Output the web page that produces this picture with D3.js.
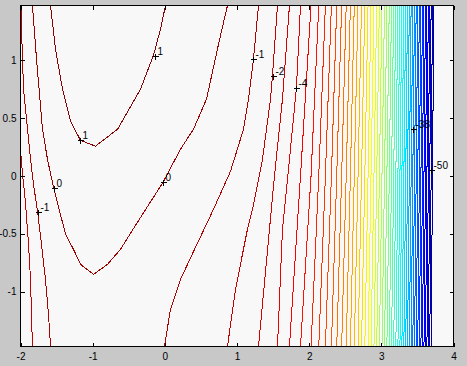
<!DOCTYPE html>
<html>
<head>
<meta charset="utf-8">
<script src="https://cdn.jsdelivr.net/npm/d3@7"></script>
<style>
  html, body { margin: 0; padding: 0; background: #c8c8c8; }
  svg { display: block; }
  text { font-family: "Liberation Sans", Arial, sans-serif; font-size: 10px; fill: #000; }
</style>
</head>
<body>
<div id="chart"></div>
<script>
// Axis ticks
const xTicks = [-2, -1, 0, 1, 2, 3, 4];
const yTicks = [-1, -0.5, 0, 0.5, 1];

// Contour lines with curved shapes: [x, y] in data units
const contour1 = [[-1.584, 1.475], [-1.515, 1.097], [-1.418, 0.751], [-1.307, 0.474], [-1.169, 0.309], [-0.961, 0.258],
  [-0.656, 0.404], [-0.337, 0.751], [-0.157, 1.045], [-0.060, 1.270], [0.009, 1.475]];
const contour0 = [[-1.834, 1.475], [-1.778, 1.010], [-1.695, 0.404], [-1.626, 0.144], [-1.543, -0.097], [-1.376, -0.504],
  [-1.266, -0.634], [-1.169, -0.764], [-0.988, -0.851], [-0.794, -0.764], [-0.614, -0.634], [-0.406, -0.426],
  [-0.025, -0.055], [0.217, 0.232], [0.397, 0.405], [0.577, 0.664], [0.744, 1.140], [0.868, 1.475]];
const contourM1Left = [[-1.993, 1.475], [-1.979, 1.140], [-1.958, 0.751], [-1.903, 0.404], [-1.861, 0.144], [-1.820, -0.072],
  [-1.764, -0.306], [-1.709, -0.591], [-1.654, -0.894], [-1.612, -1.197], [-1.584, -1.475]];
const contourM1Right = [[1.298, 1.475], [1.228, 1.010], [1.159, 0.664], [1.090, 0.404], [0.910, 0.041], [0.674, -0.288],
  [0.425, -0.617], [0.217, -0.894], [0.078, -1.154], [-0.005, -1.475]];
const contourM2Left = [[-2.0, 0.231], [-1.972, 0.015], [-1.931, -0.227], [-1.889, -0.591], [-1.861, -0.894], [-1.848, -1.197], [-1.834, -1.475]];
const contourM2Right = [[1.561, 1.475], [1.492, 0.872], [1.464, 0.664], [1.353, 0.144], [1.215, -0.288], [1.145, -0.461], [0.979, -0.980], [0.868, -1.475]];
const contourM3 = [[1.727, 1.475], [1.630, 0.664], [1.519, 0], [1.450, -0.461], [1.298, -1.475]];
const contourM4 = [[1.880, 1.475], [1.824, 0.765], [1.727, 0.144], [1.630, -0.461], [1.561, -1.475]];

// Near-straight contours on the right: level and x where each crosses top edge, y = 0 and bottom edge
const rightLevels = [-5, -6, -7, -8, -9, -10, -11, -12, -13, -14, -15, -16, -17, -18, -19, -20, -21, -22, -23, -24,
  -25, -26, -27, -28, -29, -30, -31, -32, -33, -34, -35, -36, -37, -38, -39, -40, -41, -42, -43, -44,
  -45, -46, -47, -48, -49, -50, -51];
const rightTopX = [2.026, 2.133, 2.225, 2.308, 2.382, 2.450, 2.513, 2.571, 2.625, 2.677, 2.725, 2.771, 2.816, 2.857,
  2.898, 2.936, 2.973, 3.009, 3.044, 3.077, 3.110, 3.141, 3.171, 3.201, 3.230, 3.258, 3.285, 3.312, 3.338, 3.363,
  3.388, 3.413, 3.436, 3.460, 3.483, 3.505, 3.527, 3.549, 3.570, 3.591, 3.612, 3.632, 3.651, 3.671, 3.690, 3.709, 3.728];
const rightMidX = [1.880, 2.026, 2.133, 2.225, 2.308, 2.382, 2.450, 2.513, 2.571, 2.625, 2.677, 2.725, 2.771, 2.816,
  2.857, 2.898, 2.936, 2.973, 3.009, 3.044, 3.077, 3.110, 3.141, 3.171, 3.201, 3.230, 3.258, 3.285, 3.312, 3.338,
  3.363, 3.388, 3.413, 3.436, 3.460, 3.483, 3.505, 3.527, 3.549, 3.570, 3.591, 3.612, 3.632, 3.651, 3.671, 3.690, 3.709];
const rightBotX = [1.727, 1.880, 2.026, 2.133, 2.225, 2.308, 2.382, 2.450, 2.513, 2.571, 2.625, 2.677, 2.725, 2.771,
  2.816, 2.857, 2.898, 2.936, 2.973, 3.009, 3.044, 3.077, 3.110, 3.141, 3.171, 3.201, 3.230, 3.258, 3.285, 3.312,
  3.338, 3.363, 3.388, 3.413, 3.436, 3.460, 3.483, 3.505, 3.527, 3.549, 3.570, 3.591, 3.612, 3.632, 3.651, 3.671, 3.690];

// Contour labels
const labelText = ['1', '1', '0', '0', '-1', '-1', '-2', '-4', '-38', '-50'];
const labelX = [-1.169, -0.143, -1.539, -0.025, -1.760, 1.228, 1.496, 1.824, 3.441, 3.691];
const labelY = [0.309, 1.036, -0.100, -0.055, -0.308, 1.010, 0.861, 0.765, 0.410, 0.052];

// Color range of the data (jet colormap)
const zMin = -52.5, zMax = 1.6;

const W = 467, H = 366;
const svg = d3.select('#chart').append('svg').attr('width', W).attr('height', H);

const x = d3.scaleLinear().domain([-2, 4]).range([20.5, 453.5]);
const y = d3.scaleLinear().domain([-1.475, 1.475]).range([346.5, 5.5]);

const jet = d3.scaleLinear()
  .domain([0, 0.125, 0.375, 0.625, 0.875, 1])
  .range(['#000080', '#0000ff', '#00ffff', '#ffff00', '#ff0000', '#800000']);
const color = level => jet((level - zMin) / (zMax - zMin));

// Plot background
svg.append('rect')
  .attr('x', x(-2)).attr('y', y(1.475))
  .attr('width', x(4) - x(-2)).attr('height', y(-1.475) - y(1.475))
  .attr('fill', '#f8f8f8');

svg.append('clipPath').attr('id', 'plot')
  .append('rect')
  .attr('x', x(-2)).attr('y', y(1.475))
  .attr('width', x(4) - x(-2)).attr('height', y(-1.475) - y(1.475));

// Gather every contour line
const lines = [
  { level: 1, pts: contour1 },
  { level: 0, pts: contour0 },
  { level: -1, pts: contourM1Left },
  { level: -1, pts: contourM1Right },
  { level: -2, pts: contourM2Left },
  { level: -2, pts: contourM2Right },
  { level: -3, pts: contourM3 },
  { level: -4, pts: contourM4 }
];
rightLevels.forEach((lv, i) => {
  lines.push({ level: lv, pts: [[rightTopX[i], 1.475], [rightMidX[i], 0], [rightBotX[i], -1.475]] });
});

const line = d3.line().x(d => x(d[0])).y(d => y(d[1]));

svg.append('g')
  .attr('clip-path', 'url(#plot)')
  .selectAll('path')
  .data(lines)
  .enter().append('path')
  .attr('d', d => line(d.pts))
  .attr('fill', 'none')
  .attr('stroke', d => color(d.level))
  .attr('stroke-width', 1)
  .attr('shape-rendering', 'crispEdges');

// Axes box
svg.append('rect')
  .attr('x', x(-2)).attr('y', y(1.475))
  .attr('width', x(4) - x(-2)).attr('height', y(-1.475) - y(1.475))
  .attr('fill', 'none').attr('stroke', '#000').attr('shape-rendering', 'crispEdges');

// Axes with inward ticks
function styleAxis(g) {
  g.select('.domain').remove();
  g.selectAll('line').attr('stroke', '#000').attr('shape-rendering', 'crispEdges');
  g.attr('font-family', null).attr('font-size', null);
  g.selectAll('text').attr('fill', '#000');
}
const fmt = d => String(d);

svg.append('g')
  .attr('transform', `translate(0,${y(-1.475)})`)
  .call(d3.axisBottom(x).tickValues(xTicks).tickSizeInner(-4).tickSizeOuter(0).tickPadding(6).tickFormat(fmt))
  .call(styleAxis);
svg.append('g')
  .attr('transform', `translate(0,${y(1.475)})`)
  .call(d3.axisTop(x).tickValues(xTicks).tickSizeInner(-4).tickSizeOuter(0).tickFormat(''))
  .call(styleAxis);
svg.append('g')
  .attr('transform', `translate(${x(-2)},0)`)
  .call(d3.axisLeft(y).tickValues(yTicks).tickSizeInner(-4).tickSizeOuter(0).tickPadding(4).tickFormat(fmt))
  .call(styleAxis);
svg.append('g')
  .attr('transform', `translate(${x(4)},0)`)
  .call(d3.axisRight(y).tickValues(yTicks).tickSizeInner(-4).tickSizeOuter(0).tickFormat(''))
  .call(styleAxis);

// Contour labels: "+" marker and value
const labels = svg.append('g')
  .selectAll('g')
  .data(labelText.map((t, i) => ({ t, x: labelX[i], y: labelY[i] })))
  .enter().append('g')
  .attr('transform', d => `translate(${Math.round(x(d.x)) + 0.5},${Math.round(y(d.y)) + 0.5})`);

labels.append('path')
  .attr('d', 'M-3,0H3M0,-3V3')
  .attr('stroke', '#000')
  .attr('shape-rendering', 'crispEdges');

labels.append('text')
  .attr('x', 2)
  .attr('y', -2)
  .text(d => d.t);
</script>
</body>
</html>
